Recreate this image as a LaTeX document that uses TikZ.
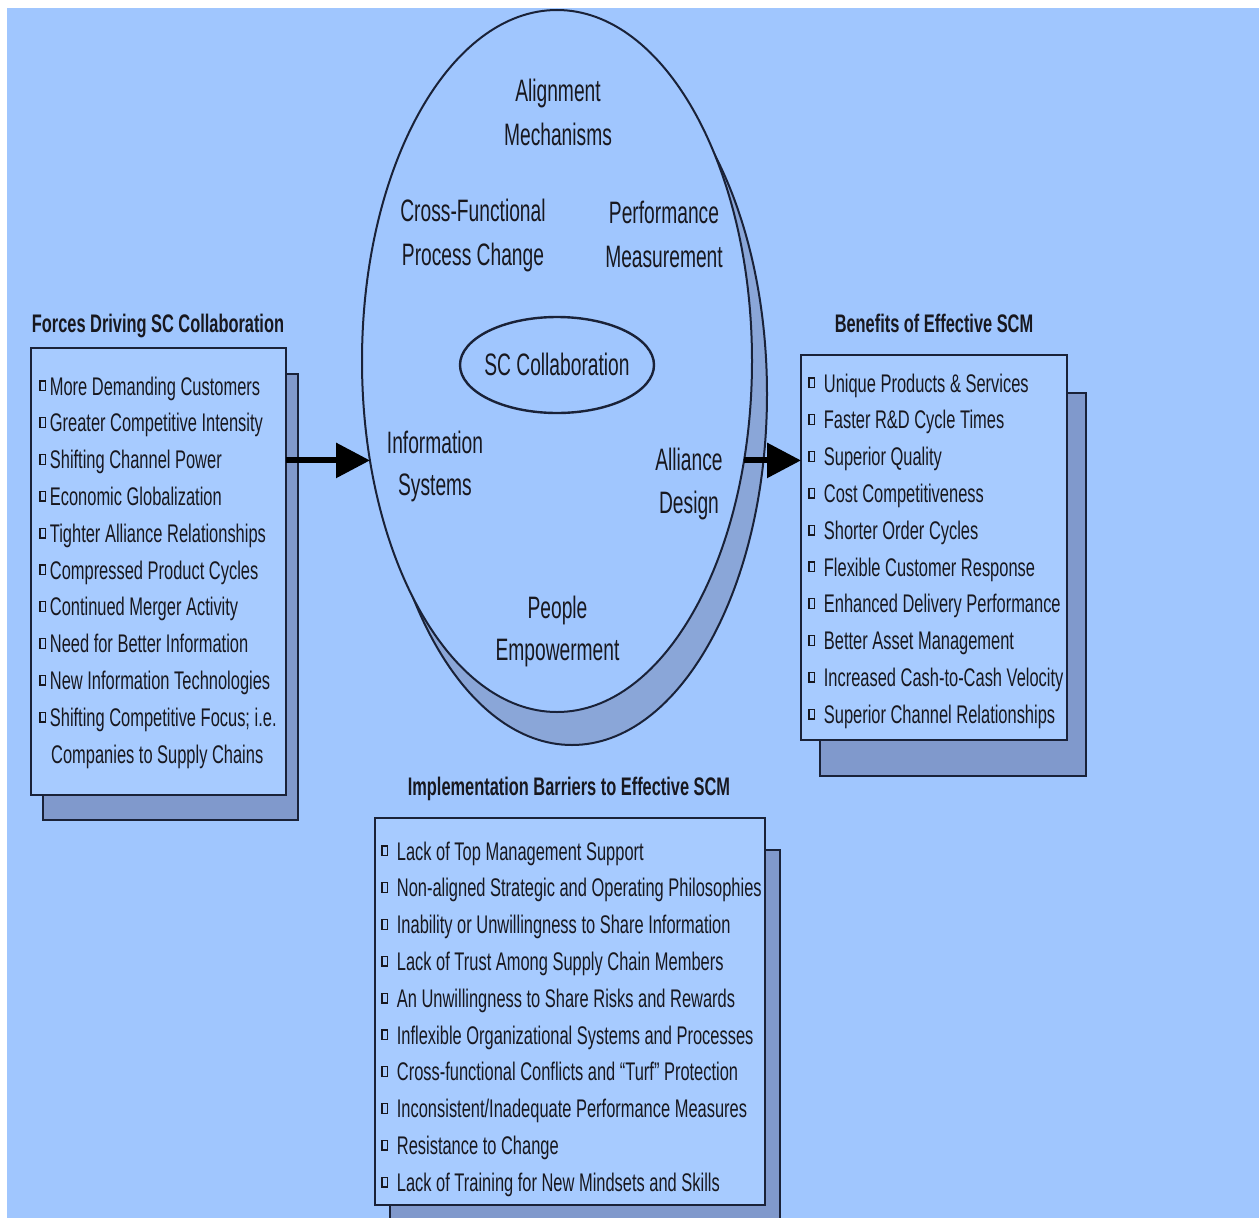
\documentclass[tikz,border=0pt]{standalone}
\usepackage{fontspec}
\setmainfont{Liberation Sans}
\newfontfamily\itemfont[FakeStretch=0.645]{Liberation Sans}
\newfontfamily\innerfont[FakeStretch=0.62]{Liberation Sans}
\usetikzlibrary{shapes.geometric,arrows.meta}
\definecolor{bg}{HTML}{A0C6FE}
\definecolor{boxfill}{HTML}{A7CBFF}
\definecolor{shade}{HTML}{8099CC}
\definecolor{eshade}{HTML}{8AA6D8}
\definecolor{ink}{HTML}{1A2238}
\definecolor{txt}{HTML}{18181F}
\newcommand\cbx[1]{\raisebox{5pt}{\setlength\fboxsep{0pt}\setlength\fboxrule{1.3pt}\fbox{\rule{0pt}{8.4pt}\hspace{4.6pt}}}\hspace{#1}}
\begin{document}
\begin{tikzpicture}[x=1pt,y=-1pt,
  mainbox/.style={draw=ink, line width=2.2pt, fill=boxfill, anchor=north west, inner sep=0pt, outer sep=0pt},
  shadowbox/.style={draw=ink, line width=2.2pt, fill=shade, anchor=north west, inner sep=0pt, outer sep=0pt},
  item/.style={anchor=base west, inner sep=0pt, text=txt, font=\itemfont\fontsize{25.5}{30}\selectfont},
  title/.style={anchor=base, inner sep=0pt, text=txt, font=\itemfont\bfseries\fontsize{25.4}{30}\selectfont},
  inner/.style={anchor=base, inner sep=0pt, text=txt, font=\innerfont\fontsize{31}{36}\selectfont},
  bigarrow/.style={draw=black, line width=6pt, -{Triangle[length=34pt,width=34pt]}}
]
\useasboundingbox (0,0) rectangle (1259,1218);
\clip (0,0) rectangle (1259,1218);
\fill[white] (0,0) rectangle (1259,1218);
\fill[bg] (7,8) rectangle (1259,1218);

% central ellipse with its shadow
\node[ellipse, draw=ink, line width=2pt, fill=eshade, inner sep=0pt, outer sep=0pt,
      minimum width=390pt, minimum height=702pt] (bigshadow) at (572,394) {};
\node[ellipse, draw=ink, line width=2pt, fill=bg, inner sep=0pt, outer sep=0pt,
      minimum width=390pt, minimum height=702pt] (big) at (557,361) {};
\node[ellipse, draw=ink, line width=2.4pt, inner sep=0pt,
      minimum width=194pt, minimum height=96pt] (core) at (557,365) {};
\node[inner] (sc) at (557,375) {SC Collaboration};

\node[inner] (al1) at (558,101.7) {Alignment};
\node[inner] (al2) at (558,145) {Mechanisms};
\node[inner] (cf1) at (473,221.7) {Cross-Functional};
\node[inner] (cf2) at (473,265) {Process Change};
\node[inner] (pm1) at (664,223) {Performance};
\node[inner] (pm2) at (664,267) {Measurement};
\node[inner] (is1) at (435,453) {Information};
\node[inner] (is2) at (435,495) {Systems};
\node[inner] (ad1) at (689,470) {Alliance};
\node[inner] (ad2) at (689,513) {Design};
\node[inner] (pe1) at (557.5,618) {People};
\node[inner] (pe2) at (557.5,660) {Empowerment};

% left box
\node[shadowbox, minimum width=255pt, minimum height=446pt] (fshadow) at (43,374) {};
\node[mainbox, minimum width=255pt, minimum height=447pt] (fbox) at (31,348) {};
\node[title] (ftitle) at (158,332) {Forces Driving SC Collaboration};
\foreach \t [count=\i from 0] in {More Demanding Customers, Greater Competitive Intensity,
  Shifting Channel Power, Economic Globalization, Tighter Alliance Relationships,
  Compressed Product Cycles, Continued Merger Activity, Need for Better Information,
  New Information Technologies, Shifting Competitive Focus; i.e.}
  \node[item] (f\i) at (39,{395+36.8*\i}) {\cbx{3.5pt}\t};
\node[item] (f10) at (51,763) {Companies to Supply Chains};

% right box
\node[shadowbox, minimum width=266pt, minimum height=383pt] (bshadow) at (820,393) {};
\node[mainbox, minimum width=266pt, minimum height=385pt] (bbox) at (801,355) {};
\node[title] (btitle) at (934,332) {Benefits of Effective SCM};
\foreach \t [count=\i from 0] in {Unique Products \& Services, Faster R\&D Cycle Times,
  Superior Quality, Cost Competitiveness, Shorter Order Cycles, Flexible Customer Response,
  Enhanced Delivery Performance, Better Asset Management, Increased Cash-to-Cash Velocity,
  Superior Channel Relationships}
  \node[item] (b\i) at (808,{392+36.8*\i}) {\cbx{8.5pt}\t};

% bottom box
\node[shadowbox, minimum width=390pt, minimum height=380pt] (ishadow) at (390,850) {};
\node[mainbox, minimum width=390pt, minimum height=387pt] (ibox) at (375,818) {};
\node[title] (ititle) at (569,795) {Implementation Barriers to Effective SCM};
\foreach \t [count=\i from 0] in {Lack of Top Management Support,
  Non-aligned Strategic and Operating Philosophies,
  Inability or Unwillingness to Share Information,
  Lack of Trust Among Supply Chain Members,
  An Unwillingness to Share Risks and Rewards,
  Inflexible Organizational Systems and Processes,
  Cross-functional Conflicts and “Turf” Protection,
  Inconsistent/Inadequate Performance Measures,
  Resistance to Change,
  Lack of Training for New Mindsets and Skills}
  \node[item] (i\i) at (381,{860+36.8*\i}) {\cbx{8.5pt}\t};

% arrows
\draw[bigarrow] (fbox.east |- big.208.7) -- (big.208.7);
\draw[bigarrow] (big.332.1) -- (big.332.1 -| bbox.west);
\end{tikzpicture}
\end{document}
